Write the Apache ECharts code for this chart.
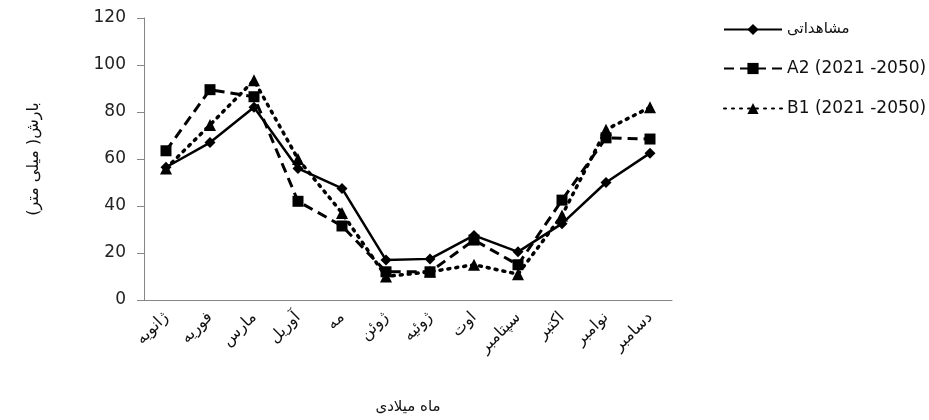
<!DOCTYPE html>
<html>
<head>
<meta charset="utf-8">
<script src="https://cdn.jsdelivr.net/npm/echarts@6/dist/echarts.min.js"></script>
<style>
html, body { margin: 0; padding: 0; background: #fff; }
#chart { width: 929px; height: 420px; }
</style>
</head>
<body>
<div id="chart"></div>
<script>
var months = ['ژانویه', 'فوریه', 'مارس', 'آوریل', 'مه', 'ژوئن', 'ژوئیه', 'اوت', 'سپتامبر', 'اکتبر', 'نوامبر', 'دسامبر'];
var observed = [56.5, 67, 82, 56, 47.5, 17, 17.5, 27.5, 20.5, 32.5, 50, 62.5];
var a2 = [63.5, 89.5, 86.5, 42, 31.5, 12, 12, 25.5, 15, 42.5, 69, 68.5];
var b1 = [56, 74.5, 93.5, 60, 37, 10, 12, 15, 11, 36, 72.5, 82];
var seriesNames = ['مشاهداتی', 'A2 (2021 -2050)', 'B1 (2021 -2050)'];

var fontFam = '"DejaVu Sans", "Noto Sans", sans-serif';
var faFam = '"DejaVu Sans", "Noto Sans", sans-serif';

var chart = echarts.init(document.getElementById('chart'));
chart.setOption({
    animation: false,
    textStyle: { fontFamily: fontFam },
    grid: {
        left: 144,
        top: 18,
        right: 257,
        bottom: 116
    },
    legend: {
        orient: 'vertical',
        left: 718,
        top: 17,
        itemGap: 23,
        itemWidth: 58,
        itemHeight: 14,
        formatter: function (name) {
            if (name === seriesNames[0]) return '{fa|' + name + '}';
            return name;
        },
        textStyle: {
            fontSize: 17, color: '#111', fontFamily: fontFam,
            rich: { fa: { fontSize: 15, fontFamily: faFam, color: '#111' } }
        },
        data: seriesNames
    },
    xAxis: {
        type: 'category',
        data: months,
        boundaryGap: true,
        name: 'ماه میلادی',
        nameLocation: 'middle',
        nameGap: 100,
        nameTextStyle: { fontSize: 15, color: '#111', fontFamily: faFam },
        axisLine: { lineStyle: { color: '#868686', width: 1 } },
        axisTick: { show: false },
        axisLabel: { rotate: 45, fontSize: 16, color: '#111', interval: 0, margin: 15, fontFamily: faFam }
    },
    yAxis: {
        type: 'value',
        min: 0,
        max: 120,
        interval: 20,
        name: 'بارش( میلی متر)',
        nameLocation: 'middle',
        nameGap: 102,
        nameRotate: 90,
        nameTextStyle: { fontSize: 16, color: '#111', fontFamily: faFam },
        splitLine: { show: false },
        axisLine: { show: true, lineStyle: { color: '#868686', width: 1 } },
        axisTick: { show: true, length: 7, lineStyle: { color: '#868686' } },
        axisLabel: { fontSize: 17, color: '#222', margin: 18 }
    },
    series: [
        {
            name: seriesNames[0],
            type: 'line',
            data: observed,
            symbol: 'diamond',
            symbolSize: 11,
            itemStyle: { color: '#000' },
            lineStyle: { color: '#000', width: 2.5, type: 'solid' }
        },
        {
            name: seriesNames[1],
            type: 'line',
            data: a2,
            symbol: 'rect',
            symbolSize: 11,
            itemStyle: { color: '#000' },
            lineStyle: { color: '#000', width: 3, type: [10, 6] }
        },
        {
            name: seriesNames[2],
            type: 'line',
            data: b1,
            symbol: 'triangle',
            symbolSize: 12,
            itemStyle: { color: '#000' },
            lineStyle: { color: '#000', width: 3.5, type: [2, 6], cap: 'round' }
        }
    ]
});
</script>
</body>
</html>
